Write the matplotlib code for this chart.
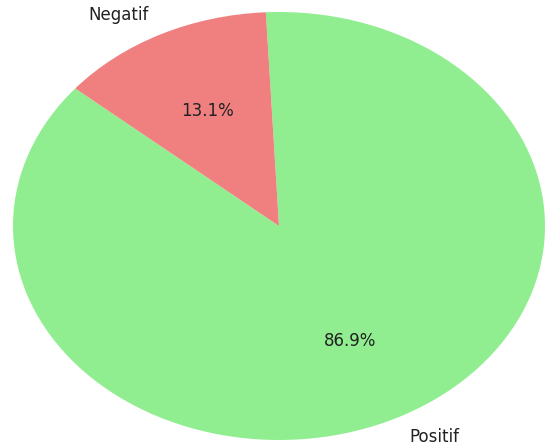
import matplotlib
matplotlib.use("Agg")
import matplotlib.pyplot as plt

labels = ["Positif", "Negatif"]
values = [86.9, 13.1]
colors = ["lightgreen", "lightcoral"]

fig = plt.figure(figsize=(5.49, 4.45), dpi=100)
ax = fig.add_axes([13/549, 5/445, 532/549, 428/445])
ax.pie(values, labels=labels, colors=colors, autopct="%1.1f%%", startangle=140,
       textprops={"fontsize": 12, "color": "#222222"})
ax.set_aspect("auto")
ax.set_xlim(-1, 1)
ax.set_ylim(-1, 1)
fig.savefig("out.png", dpi=100)
